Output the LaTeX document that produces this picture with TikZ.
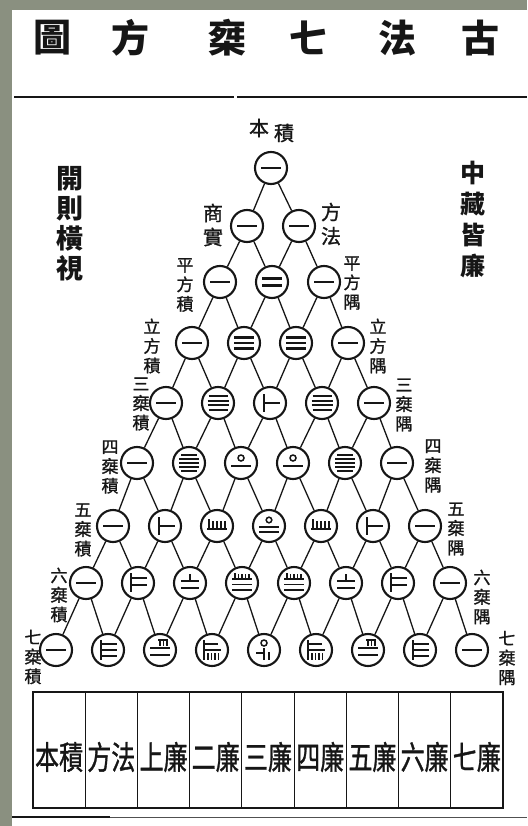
\documentclass[tikz,border=0pt]{standalone}
\usepackage{fontspec}
\newfontfamily\cjk{Noto Sans CJK TC}
\newfontfamily\cjkm[FakeBold=1.2]{Noto Sans CJK TC}
\definecolor{frame}{RGB}{138,144,128}
\definecolor{ink}{RGB}{22,22,22}
\newcommand\rodI{\draw[rod] (-10,0)--(10,0);}
\newcommand\rodII{\draw[rod] (-10,-3.5)--(10,-3.5) (-10,3.5)--(10,3.5);}
\newcommand\rodIII{\draw[rod] (-10,-5.5)--(10,-5.5) (-10,0)--(10,0) (-10,5.5)--(10,5.5);}
\newcommand\rodIV{\draw[rod] (-9.5,-6.6)--(9.5,-6.6) (-10.5,-2.2)--(10.5,-2.2) (-10.5,2.2)--(10.5,2.2) (-9.5,6.6)--(9.5,6.6);}
\newcommand\rodV{\draw[rod,line width=1.7pt] (-8,-8)--(8,-8) (-10,-4)--(10,-4) (-10,0)--(10,0) (-10,4)--(10,4) (-8,8)--(8,8);}
\newcommand\rodVI{\draw[rod] (-6,-9)--(-6,9) (-6,0)--(10,0);}
\newcommand\rodVII{\draw[rod] (-7,-10)--(-7,9) (-7,-5)--(9,-5) (-7,2)--(9,2);}
\newcommand\rodVIII{\draw[rod] (-7,-10)--(-7,10) (-7,-6)--(9,-6) (-7,0)--(9,0) (-7,6)--(9,6);}
\newcommand\rodX{\draw[rod,line width=1.5pt] (0,-5) circle (3); \draw[rod] (-10,3)--(10,3);}
\newcommand\rodXV{\draw[rod,line width=1.7pt] (-8,-7)--(-8,3) (-4,-5)--(-4,3) (0,-5)--(0,3) (4,-5)--(4,3) (8,-5)--(8,3) (-10,3)--(10,3);}
\newcommand\rodXX{\draw[rod,line width=1.5pt] (0,-6) circle (2.8); \draw[rod] (-10,1)--(10,1) (-10,6)--(10,6);}
\newcommand\rodXXI{\draw[rod] (0,-9)--(0,-2) (-9,-2)--(9,-2) (-9,5)--(9,5);}
\newcommand\rodXXXV{\draw[rod,line width=1.7pt] (-7,-10)--(-7,-4) (-3.5,-9)--(-3.5,-4) (0,-9)--(0,-4) (3.5,-9)--(3.5,-4) (7,-9)--(7,-4) (-10,-4)--(10,-4) (-10,1.5)--(10,1.5) (-10,7)--(10,7);}
\newcommand\rodXXVIII{\draw[rod,line width=1.7pt] (-2,-10)--(8,-10) (0,-10)--(0,-4) (3.5,-10)--(3.5,-4) (7,-10)--(7,-4) (-10,-2)--(10,-2) (-10,5)--(10,5);}
\newcommand\rodLVI{\draw[rod,line width=1.7pt] (-8,-10)--(-8,10) (-8,-6)--(6,-6) (-8,0)--(9,0) (-4,3)--(-4,10) (-0.5,3)--(-0.5,10) (3,3)--(3,10) (6.5,3)--(6.5,10);}
\newcommand\rodLXX{\draw[rod,line width=1.5pt] (0,-7) circle (3); \draw[rod] (-8,3)--(0,3) (0,-2)--(0,10) (5,2)--(5,10);}
\begin{document}
\begin{tikzpicture}[x=1pt,y=-1pt,
  circ/.style={circle,draw=ink,line width=2.1pt,minimum size=32pt,inner sep=0pt,fill=white},
  edge/.style={draw=ink,line width=1.3pt},
  rod/.style={draw=ink,line width=2.1pt},
  lab/.style={font=\cjkm\fontsize{17}{19.5}\selectfont,align=center,inner sep=0pt,text=ink},
  lab2/.style={font=\cjkm\fontsize{20}{24}\selectfont,align=center,inner sep=0pt,text=ink},
  big/.style={font=\cjk\bfseries\fontsize{27}{30}\selectfont,align=center,inner sep=0pt,text=ink},
  ttl/.style={font=\cjk\bfseries\fontsize{38}{40}\selectfont,inner sep=0pt,text=ink},
  cell/.style={font=\cjkm\fontsize{24}{26}\selectfont,inner sep=0pt,text=ink},
]
\useasboundingbox (0,0) rectangle (527,826);
\fill[frame] (0,0) rectangle (527,826);
\fill[white] (12,10) rectangle (527,826);
% title
\node[ttl] (t1) at (52,38) {圖};
\node[ttl] (t2) at (130,38) {方};
\node[ttl] (t3) at (227,38) {椉};
\node[ttl] (t4) at (308,38) {七};
\node[ttl] (t5) at (397,38) {法};
\node[ttl] (t6) at (480,38) {古};
\draw[ink,line width=2pt] (14,97) -- (234,97);
\draw[ink,line width=2pt] (237,97.5) -- (527,97.5);
% side texts
\node[big] (sl) at (70,224) {開\\則\\橫\\視};
\node[big,font=\cjk\bfseries\fontsize{25}{31}\selectfont] (sr) at (473,220) {中\\藏\\皆\\廉};
% nodes
\foreach \rw/\cx/\yy in {0/271/168,1/273/226,2/272/282,3/270/343,4/270/403,5/267/463,6/269/526,7/268/583,8/264/650}{
  \foreach \kk in {0,...,\rw}{
    \node[circ] (n-\rw-\kk) at ({\cx+52*(\kk-\rw/2)},\yy) {};
  }
}
\foreach \rw in {0,...,7}{
  \pgfmathtruncatemacro\rnx{\rw+1}
  \foreach \kk in {0,...,\rw}{
    \pgfmathtruncatemacro\knx{\kk+1}
    \draw[edge] (n-\rw-\kk) -- (n-\rnx-\kk);
    \draw[edge] (n-\rw-\kk) -- (n-\rnx-\knx);
  }
}
\foreach \rw/\kk/\gl in {0/0/I,1/0/I,1/1/I,2/0/I,2/1/II,2/2/I,3/0/I,3/1/III,3/2/III,3/3/I,4/0/I,4/1/IV,4/2/VI,4/3/IV,4/4/I,5/0/I,5/1/V,5/2/X,5/3/X,5/4/V,5/5/I,6/0/I,6/1/VI,6/2/XV,6/3/XX,6/4/XV,6/5/VI,6/6/I,7/0/I,7/1/VII,7/2/XXI,7/3/XXXV,7/4/XXXV,7/5/XXI,7/6/VII,7/7/I,8/0/I,8/1/VIII,8/2/XXVIII,8/3/LVI,8/4/LXX,8/5/LVI,8/6/XXVIII,8/7/VIII,8/8/I}{
  \begin{scope}[shift={(n-\rw-\kk.center)}]\csname rod\gl\endcsname\end{scope}
}
% labels
\node[lab2] (ben) at (259,128) {本};
\node[lab2] (ji) at (284,133) {積};
\node[lab2] (l1) at (213,225) {商\\實};
\node[lab2] (r1) at (331,224) {方\\法};
\node[lab] (l2) at (185,285) {平\\方\\積};
\node[lab] (r2) at (352,283) {平\\方\\隅};
\node[lab] (l3) at (152,346) {立\\方\\積};
\node[lab] (r3) at (378,346) {立\\方\\隅};
\node[lab] (l4) at (141,404) {三\\椉\\積};
\node[lab] (r4) at (404,405) {三\\椉\\隅};
\node[lab] (l5) at (110,467) {四\\椉\\積};
\node[lab] (r5) at (433,466) {四\\椉\\隅};
\node[lab] (l6) at (83,530) {五\\椉\\積};
\node[lab] (r6) at (456,529) {五\\椉\\隅};
\node[lab] (l7) at (59,595) {六\\椉\\積};
\node[lab] (r7) at (482,597) {六\\椉\\隅};
\node[lab] (l8) at (33,657) {七\\椉\\積};
\node[lab] (r8) at (507,658) {七\\椉\\隅};
% table
\draw[ink,line width=1.8pt] (33,692) rectangle (503,808);
\foreach \i in {1,...,8}{
  \draw[ink,line width=1.1pt] ({33+52.22*\i},692) -- ({33+52.22*\i},808);
}
\foreach \i/\t in {0/本積,1/方法,2/上廉,3/二廉,4/三廉,5/四廉,6/五廉,7/六廉,8/七廉}{
  \node[cell] (c-\i) at ({33+52.22*(\i+0.5)},757) {\scalebox{1.0}[1.35]{\t}};
}
\draw[ink,line width=2.4pt] (12,817) -- (110,817);
\draw[ink!75,line width=1pt] (110,817) -- (527,817);
\end{tikzpicture}
\end{document}
